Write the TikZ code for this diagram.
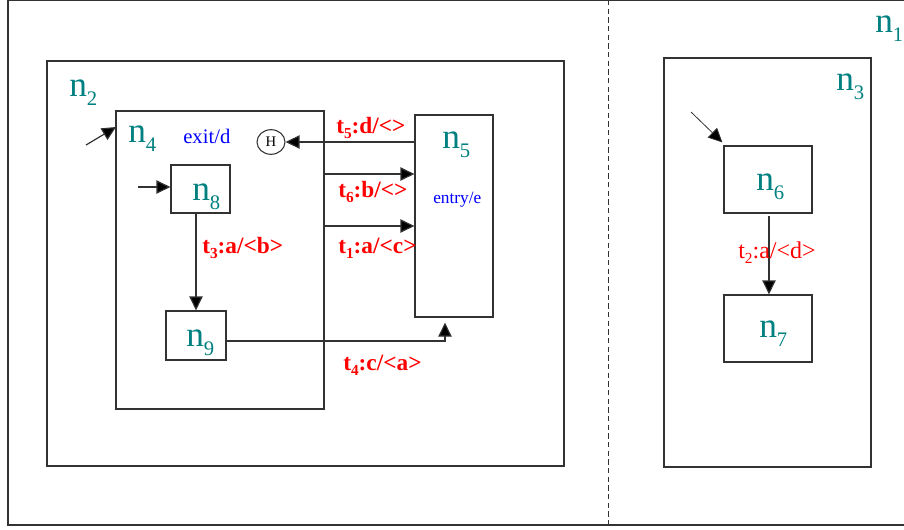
\documentclass[tikz,border=0pt]{standalone}
\usepackage{fontspec}
\setmainfont{Liberation Serif}
\usetikzlibrary{arrows.meta,fit,calc,shapes.geometric}
\definecolor{tealn}{RGB}{0,128,128}
\definecolor{linec}{RGB}{50,50,50}
\newcommand\nlab[1]{n\raisebox{-7pt}{\fontsize{15.5}{15.5}\selectfont #1}}
\newcommand\tsub[1]{\raisebox{-4pt}{\fontsize{11.5}{11.5}\selectfont #1}}
\begin{document}
\begin{tikzpicture}[x=0.75pt,y=-0.75pt,
 box/.style={draw=linec,line width=0.9pt,inner sep=0pt},
 arr/.style={draw=linec,line width=0.9pt,-{Triangle[length=10.5pt,width=10pt,fill=black]}},
 nl/.style={text=tealn,font=\fontsize{26.5}{26.5}\selectfont,inner sep=0pt,anchor=base west},
 tl/.style={text=red,font=\bfseries\fontsize{17.5}{17.5}\selectfont,inner sep=0pt,anchor=base west},
 act/.style={text=blue,inner sep=0pt,anchor=base west}]
\useasboundingbox (0,0) rectangle (904,529);
\begin{scope}
\clip (0,0) rectangle (904,529);
\node[box,fit={(8,0.5)(915,525)}] (N1) {};
\coordinate (d1) at (608,0);
\draw[draw=linec,line width=0.6pt,dash pattern=on 4pt off 2.5pt] (d1) -- (d1 |- N1.south);
\end{scope}
% boxes
\node[box,fit={(47,61)(564,466)}] (N2) {};
\node[box,fit={(116,111)(324,409)}] (N4) {};
\node[box,fit={(415,115)(493,317)}] (N5) {};
\node[box,fit={(171,165)(230,213)}] (N8) {};
\node[box,fit={(166,311)(226,360)}] (N9) {};
\node[box,fit={(664,58)(871,467)}] (N3) {};
\node[box,fit={(724,146)(812,213)}] (N6) {};
\node[box,fit={(724,295)(812,362)}] (N7) {};
\node[draw=linec,line width=0.8pt,ellipse,inner sep=0pt,minimum width=21pt,minimum height=18.5pt,font=\fontsize{11}{11}\selectfont] (H) at (271,142) {H};
% state labels
\node[nl] (L1) at (875,32) {\nlab{1}};
\node[nl] (L2) at (69,96) {\nlab{2}};
\node[nl] (L3) at (836,90) {\nlab{3}};
\node[nl] (L4) at (128,142) {\nlab{4}};
\node[nl] (L5) at (442,148) {\nlab{5}};
\node[nl] (L8) at (192,200) {\nlab{8}};
\node[nl] (L9) at (186,346) {\nlab{9}};
\node[nl] (L6) at (756,190) {\nlab{6}};
\node[nl] (L7) at (759,337) {\nlab{7}};
\node[act,font=\fontsize{15.5}{15.5}\selectfont] (X4) at (183,143) {exit/d};
\node[act,font=\fontsize{13}{13}\selectfont] (E5) at (433,203) {entry/e};
% transitions
\draw[arr] (H -| N5.west) -- (H.east);
\coordinate (a6) at (324,174);
\draw[arr] (a6) -- (a6 -| N5.west);
\coordinate (a1) at (324,226);
\draw[arr] (a1) -- (a1 -| N5.west);
\coordinate (a3) at (196,213);
\draw[arr] (a3) -- (a3 |- N9.north);
\coordinate (a4) at (445,341);
\draw[arr] (N9.east |- a4) -- (a4) -- ($(a4 |- N5.south)+(0,5)$);
\coordinate (a2) at (769,216);
\draw[arr] (a2) -- (a2 |- N7.north);
% initial arrows
\coordinate (i4) at (86,145);
\coordinate (i4e) at (116,127);
\draw[arr] (i4) -- (i4e);
\coordinate (i8) at (138,187);
\draw[arr] (i8) -- (i8 -| N8.west);
\coordinate (i6) at (691,112);
\draw[arr,line width=0.6pt] (i6) -- ($(N6.north west)+(-1,-3)$);
% transition labels
\node[tl] (T5) at (336,133) {t\tsub{5}:d/<>};
\node[tl] (T6) at (338,197) {t\tsub{6}:b/<>};
\node[tl] (T1) at (338,253) {t\tsub{1}:a/<c>};
\node[tl] (T3) at (202,253) {t\tsub{3}:a/<b>};
\node[tl] (T4) at (343,370) {t\tsub{4}:c/<a>};
\node[tl,font=\fontsize{18}{18}\selectfont] (T2) at (738,258) {t\tsub{2}:a/<d>};
\end{tikzpicture}
\end{document}
